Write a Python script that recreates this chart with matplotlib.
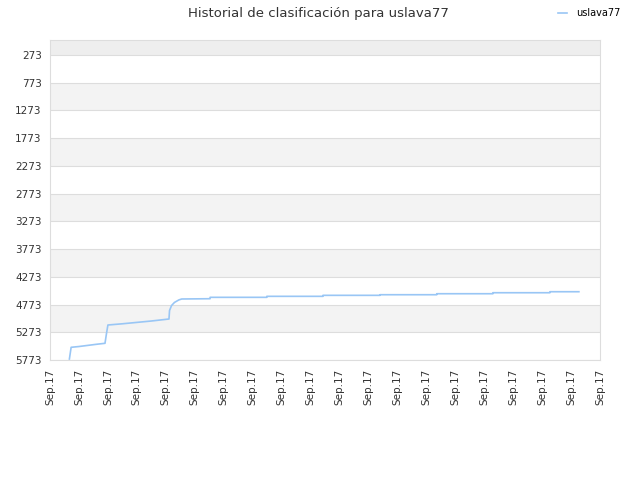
import matplotlib
matplotlib.use('Agg')
import matplotlib.pyplot as plt

# Rank history (x in days from the first tick, y = position)
days = [0.67, 0.73, 1.0, 1.3, 1.6, 1.9, 1.95, 2.0, 2.5, 3.0, 3.5, 4.11,
        4.13, 4.2, 4.3, 4.45, 4.55,
        5.53, 5.53, 7.49, 7.49, 9.43, 9.43, 11.4, 11.4, 13.36, 13.36,
        15.3, 15.3, 17.27, 17.27, 18.27]
ranks = [5755, 5544, 5530, 5510, 5490, 5472, 5300, 5142, 5120, 5095, 5070, 5034,
         4880, 4790, 4735, 4690, 4673,
         4668, 4643, 4643, 4625, 4625, 4607, 4607, 4596, 4596, 4578,
         4578, 4560, 4560, 4542, 4542]

y_ticks = [273, 773, 1273, 1773, 2273, 2773, 3273, 3773, 4273, 4773, 5273, 5773]
x_ticks = list(range(20))
x_labels = ['Sep.17'] * len(x_ticks)

title = 'Historial de clasificación para uslava77'
player = 'uslava77'

fig = plt.figure(figsize=(6.4, 4.8), dpi=100)
ax = fig.add_axes([50 / 640, 1 - 360 / 480, 550 / 640, 320 / 480])

# alternating bands between gridlines
ax.axhspan(3, y_ticks[0], color='#eeeeee', zorder=0, lw=0)
for k in range(len(y_ticks) - 1):
    if k % 2 == 1:
        ax.axhspan(y_ticks[k], y_ticks[k + 1], color='#f3f3f3', zorder=0, lw=0)
for t in y_ticks:
    ax.axhline(t, color='#dddddd', lw=0.8, zorder=1)

line, = ax.plot(days, ranks, color='#99c6f5', lw=1.2, zorder=3)

ax.set_ylim(5773, 3)
ax.set_xlim(0, 19)
ax.set_yticks(y_ticks)
ax.set_yticklabels([str(t) for t in y_ticks], fontsize=7.5, color='#333333')
ax.set_xticks(x_ticks)
ax.set_xticklabels(x_labels, rotation=90, fontsize=7.5, color='#333333')
ax.tick_params(length=0, pad=6)
for s in ax.spines.values():
    s.set_color('#dddddd')

fig.text(0.497, 1 - 13 / 480, title, ha='center', va='center', fontsize=9.5, color='#333333')
fig.legend([line], [player], loc='center right', bbox_to_anchor=(0.983, 1 - 13 / 480),
           frameon=False, fontsize=7, handlelength=1.0, handletextpad=0.9)

fig.savefig('out.png', dpi=100)
